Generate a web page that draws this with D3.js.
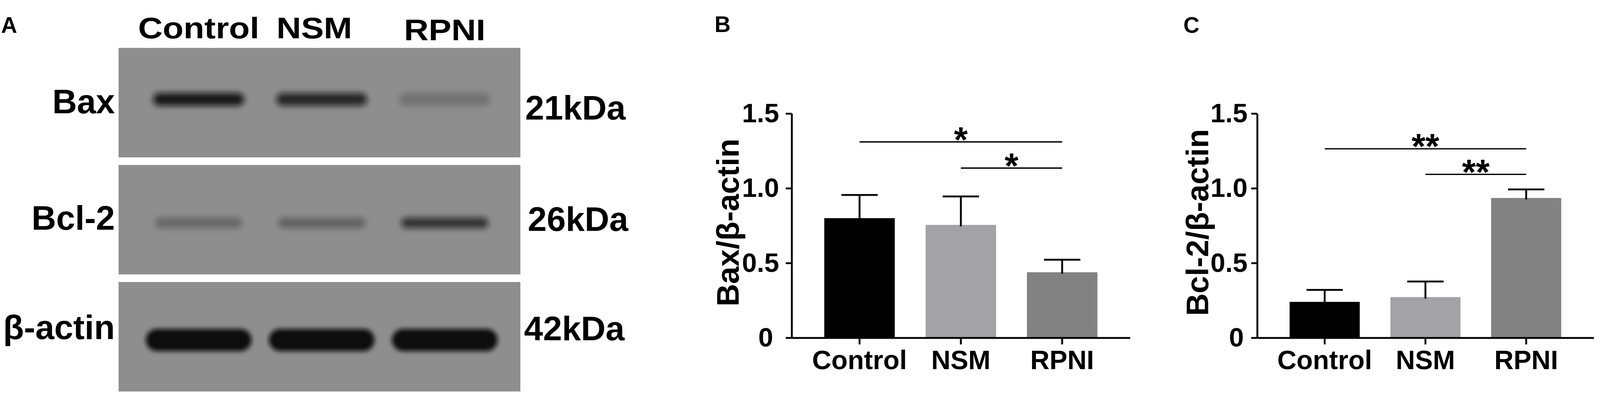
<!DOCTYPE html>
<html>
<head>
<meta charset="utf-8">
<script src="https://cdn.jsdelivr.net/npm/d3@7"></script>
<style>
  html, body { margin: 0; padding: 0; background: #fff; overflow: hidden; }
  svg { display: block; width: 100vw; height: 100vh; }
  text { font-family: "Liberation Sans", Arial, sans-serif; font-weight: bold; }
</style>
</head>
<body>
<svg id="fig"></svg>
<script>
// ---- data ----
const groups = ['Control', 'NSM', 'RPNI'];
const proteins = ['Bax', 'Bcl-2', 'β-actin'];
const weights = ['21kDa', '26kDa', '42kDa'];
// relative band darkness per lane (0..1), estimated from the blot
const baxBands = [0.92, 0.80, 0.22];
const bcl2Bands = [0.30, 0.34, 0.72];
const actinBands = [1, 1, 1];
// quantification
const baxMean = [0.80, 0.755, 0.438];
const baxErr = [0.155, 0.19, 0.084];
const bcl2Mean = [0.24, 0.272, 0.935];
const bcl2Err = [0.08, 0.104, 0.057];
const yTicks = [0, 0.5, 1.0, 1.5];
const yTickLabels = ['0', '0.5', '1.0', '1.5'];
const baxSig = [
  { a: 'Control', b: 'RPNI', y: 1.31, label: '*' },
  { a: 'NSM', b: 'RPNI', y: 1.135, label: '*' }
];
const bcl2Sig = [
  { a: 'Control', b: 'RPNI', y: 1.264, label: '**' },
  { a: 'NSM', b: 'RPNI', y: 1.093, label: '**' }
];
const barColors = ['#000000', '#a3a3a7', '#828282'];

// drawing is done in a fixed 4317 x 1047 coordinate frame, scaled to the window
const W = 4317, H = 1047;
const svg = d3.select('#fig')
  .attr('viewBox', `0 0 ${W} ${H}`)
  .attr('preserveAspectRatio', 'xMidYMid meet');

// ---- panel letters ----
svg.append('text').attr('x', 3).attr('y', 60).attr('font-size', 60).text('A');
svg.append('text').attr('x', 1928).attr('y', 58).attr('font-size', 60).text('B');
svg.append('text').attr('x', 3193).attr('y', 60).attr('font-size', 60).text('C');

// ---- panel A: western blot ----
const blot = { left: 320, right: 1404, top: 101, bottom: 1028 };
const lane = d3.scalePoint().domain(groups).range([536, 1200]);
const row = d3.scaleBand().domain(proteins).range([blot.top, blot.bottom]).paddingInner(0.065);

const bandStyle = [
  { w: 245, h: 34, fy: 0.47, blur: 'blurS' },
  { w: 235, h: 28, fy: 0.53, blur: 'blurS' },
  { w: 285, h: 60, fy: 0.53, blur: 'blurL' }
];
const rowLabelDy = [176, 175, 154];
const kdaDy = [193, 178, 157];
const kdaX = [1417, 1424, 1414];
const laneLabelDx = [0, -20, 0];
const laneLabelY = [75, 75, 80];

const defs = svg.append('defs');
defs.append('filter').attr('id', 'blurS')
  .attr('x', '-30%').attr('y', '-150%').attr('width', '160%').attr('height', '400%')
  .append('feGaussianBlur').attr('stdDeviation', 8);
defs.append('filter').attr('id', 'blurL')
  .attr('x', '-30%').attr('y', '-100%').attr('width', '160%').attr('height', '300%')
  .append('feGaussianBlur').attr('stdDeviation', 6);

const blotG = svg.append('g');
const bandSets = [baxBands, bcl2Bands, actinBands];

proteins.forEach((p, r) => {
  blotG.append('rect')
    .attr('x', blot.left).attr('y', row(p))
    .attr('width', blot.right - blot.left).attr('height', row.bandwidth())
    .attr('fill', '#8e8e8e');
  const st = bandStyle[r];
  const cy = row(p) + row.bandwidth() * st.fy;
  blotG.selectAll(null).data(groups).join('rect')
    .attr('x', d => lane(d) - st.w / 2)
    .attr('y', cy - st.h / 2)
    .attr('width', st.w).attr('height', st.h)
    .attr('rx', st.h / 2)
    .attr('fill', '#0a0a0a')
    .attr('opacity', (d, i) => bandSets[r][i])
    .attr('filter', `url(#${st.blur})`);

  svg.append('text')
    .attr('x', 310).attr('y', row(p) + rowLabelDy[r])
    .attr('text-anchor', 'end').attr('font-size', 92)
    .text(p);
  svg.append('text')
    .attr('x', kdaX[r]).attr('y', row(p) + kdaDy[r])
    .attr('font-size', 92)
    .text(weights[r]);
});

// lane labels: the original type is a little wider than Arial
svg.selectAll('text.lane').data(groups).join('text')
  .attr('class', 'lane')
  .attr('transform', (d, i) => `translate(${lane(d) + laneLabelDx[i]},${laneLabelY[i]}) scale(1.15,1)`)
  .attr('text-anchor', 'middle').attr('font-size', 80)
  .text(d => d);

// ---- panels B and C: bar charts ----
function barChart(opt) {
  const { x0, x1, means, errs, sig, ylabel, ylabelX, tickPad, zeroShift } = opt;
  const y = d3.scaleLinear().domain([0, 1.5]).range([883, 278]);
  const x = d3.scaleBand().domain(groups).range([x0, x1])
    .paddingInner(0.304).paddingOuter(0.322);
  const bw = x.bandwidth();
  const g = svg.append('g');

  g.selectAll('rect.bar').data(groups).join('rect')
    .attr('class', 'bar')
    .attr('x', d => x(d)).attr('width', bw)
    .attr('y', (d, i) => y(means[i]))
    .attr('height', (d, i) => y(0) - y(means[i]))
    .attr('fill', (d, i) => barColors[i]);

  // error bars (upper only)
  const eb = g.selectAll('g.err').data(groups).join('g').attr('class', 'err')
    .attr('stroke', '#000').attr('stroke-width', 5);
  eb.append('line')
    .attr('x1', d => x(d) + bw / 2).attr('x2', d => x(d) + bw / 2)
    .attr('y1', (d, i) => y(means[i]) + 4).attr('y2', (d, i) => y(means[i] + errs[i]));
  eb.append('line')
    .attr('x1', d => x(d) + bw / 2 - 49).attr('x2', d => x(d) + bw / 2 + 49)
    .attr('y1', (d, i) => y(means[i] + errs[i])).attr('y2', (d, i) => y(means[i] + errs[i]));

  // axes
  const ya = g.append('g').attr('transform', `translate(${x0},0)`)
    .call(d3.axisLeft(y).tickValues(yTicks).tickFormat((d, i) => yTickLabels[i])
      .tickSize(16).tickSizeOuter(0).tickPadding(tickPad));
  const xa = g.append('g').attr('transform', `translate(0,${y(0)})`)
    .call(d3.axisBottom(x).tickSize(18).tickSizeOuter(0).tickPadding(16));
  [ya, xa].forEach(a => {
    a.attr('font-size', 72).attr('font-family', null);
    a.selectAll('path, line').attr('stroke', '#000').attr('stroke-width', 5);
    a.selectAll('text').attr('fill', '#000');
  });
  ya.selectAll('.tick text').filter(d => d === 0).attr('dx', -zeroShift);

  g.append('text')
    .attr('transform', `translate(${ylabelX},572) rotate(-90)`)
    .attr('text-anchor', 'middle').attr('font-size', 84)
    .text(ylabel);

  // significance brackets
  const sg = g.selectAll('g.sig').data(sig).join('g').attr('class', 'sig');
  sg.append('line')
    .attr('x1', d => x(d.a) + bw / 2).attr('x2', d => x(d.b) + bw / 2)
    .attr('y1', d => y(d.y)).attr('y2', d => y(d.y))
    .attr('stroke', '#000').attr('stroke-width', 3.5);
  sg.append('text')
    .attr('x', d => (x(d.a) + x(d.b)) / 2 + bw / 2)
    .attr('y', d => y(d.y) + 27)
    .attr('text-anchor', 'middle').attr('font-size', 96)
    .text(d => d.label);
}

barChart({ x0: 2136, x1: 3049, means: baxMean, errs: baxErr, sig: baxSig,
  ylabel: 'Bax/β-actin', ylabelX: 1993, tickPad: 18, zeroShift: 16 });
barChart({ x0: 3392, x1: 4300, means: bcl2Mean, errs: bcl2Err, sig: bcl2Sig,
  ylabel: 'Bcl-2/β-actin', ylabelX: 3260, tickPad: 10, zeroShift: 10 });
</script>
</body>
</html>
